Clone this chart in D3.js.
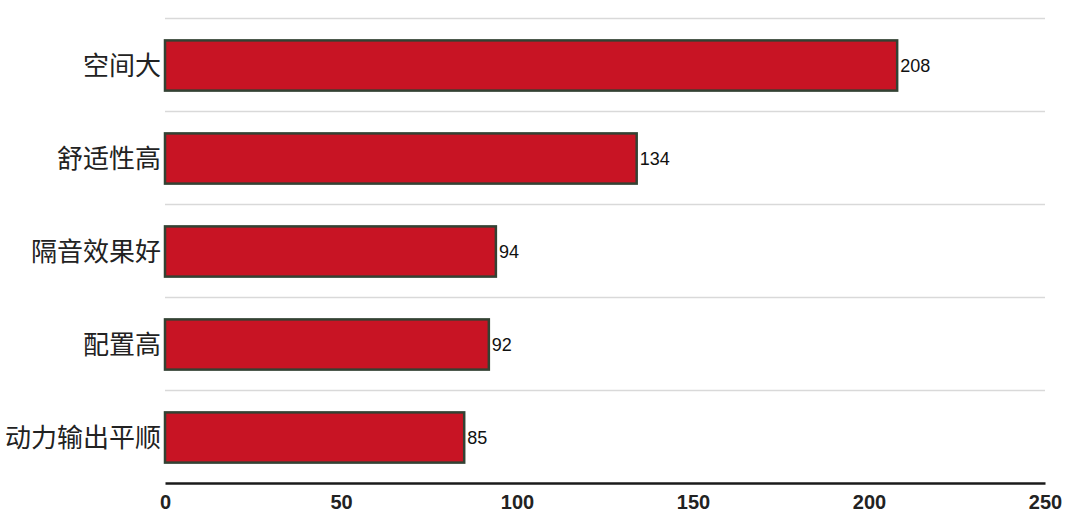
<!DOCTYPE html>
<html>
<head>
<meta charset="utf-8">
<script src="https://cdn.jsdelivr.net/npm/d3@7"></script>
<style>
  body { margin: 0; background: #fff; }
</style>
</head>
<body>
<svg id="chart" width="1080" height="528"></svg>
<script>
const categories = ["空间大", "舒适性高", "隔音效果好", "配置高", "动力输出平顺"]
const values = [208, 134, 94, 92, 85]
const xTicks = [0, 50, 100, 150, 200, 250]

const svg = d3.select("#chart")
const margin = { top: 18, right: 35, bottom: 45, left: 165 }
const width = 1080
const height = 528

const x = d3.scaleLinear()
  .domain([0, 250])
  .range([margin.left, width - margin.right])

const y = d3.scaleBand()
  .domain(categories)
  .range([margin.top, height - margin.bottom])
  .paddingInner(0.46)
  .paddingOuter(0.23)

// horizontal grid lines between bands
const gridYs = d3.range(categories.length).map(i => margin.top + i * y.step())
svg.append("g").selectAll("line")
  .data(gridYs)
  .enter()
  .append("line")
  .attr("x1", x(0))
  .attr("x2", x(250))
  .attr("y1", d => d + 0.5)
  .attr("y2", d => d + 0.5)
  .attr("stroke", "#d9d9d9")
  .attr("stroke-width", 1.5)

// bars
svg.append("g").selectAll("rect")
  .data(values)
  .enter()
  .append("rect")
  .attr("x", x(0))
  .attr("y", (d, i) => y(categories[i]) + 1)
  .attr("width", d => x(d) - x(0))
  .attr("height", y.bandwidth())
  .attr("fill", "#c81424")
  .attr("stroke", "#334233")
  .attr("stroke-width", 2.5)

// value labels
svg.append("g").selectAll("text")
  .data(values)
  .enter()
  .append("text")
  .attr("x", d => x(d) + 3)
  .attr("y", (d, i) => y(categories[i]) + 1 + y.bandwidth() / 2)
  .attr("dy", "0.35em")
  .attr("font-family", "Liberation Sans, Arial, sans-serif")
  .attr("font-size", 18)
  .attr("fill", "#111")
  .text(d => d)

// category labels
svg.append("g").selectAll("text")
  .data(categories)
  .enter()
  .append("text")
  .attr("x", x(0) - 4)
  .attr("y", d => y(d) + 1 + y.bandwidth() / 2)
  .attr("dy", "0.35em")
  .attr("text-anchor", "end")
  .attr("font-family", "Noto Sans CJK SC, sans-serif")
  .attr("font-size", 26)
  .attr("fill", "#222")
  .text(d => d)

// x axis
const xAxis = d3.axisBottom(x)
  .tickValues(xTicks)
  .tickSize(0)
  .tickPadding(12)

const axisG = svg.append("g")
  .attr("transform", `translate(0,${height - margin.bottom})`)
  .call(xAxis)

axisG.select(".domain")
  .attr("stroke", "#1a1a1a")
  .attr("stroke-width", 2.5)

axisG.selectAll("text")
  .attr("font-family", "Liberation Sans, Arial, sans-serif")
  .attr("font-size", 20)
  .attr("font-weight", "bold")
  .attr("fill", "#222")
</script>
</body>
</html>
